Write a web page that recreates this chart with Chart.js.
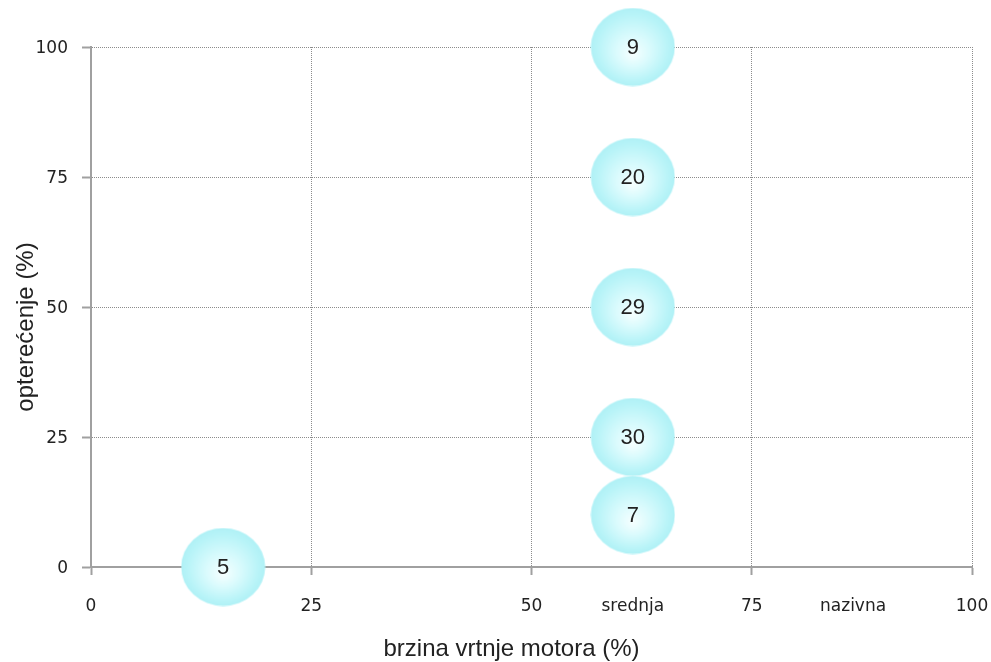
<!DOCTYPE html>
<html>
<head>
<meta charset="utf-8">
<script src="https://cdn.jsdelivr.net/npm/chart.js@4.4.1/dist/chart.umd.min.js"></script>
<style>
  html, body { margin: 0; padding: 0; background: #fff; }
  #wrap { width: 991px; height: 662px; }
</style>
</head>
<body>
<div id="wrap"><canvas id="chart1"></canvas></div>
<script>
// bubble positions (speed %, load %) and the number shown in each bubble
let speedX = [61.5, 61.5, 61.5, 61.5, 61.5, 15];
let loadY = [100, 75, 50, 25, 10, 0];
let bubbleLabels = ['9', '20', '29', '30', '7', '5'];

// x axis ticks: numbers plus two named speeds
let xTickValues = [0, 25, 50, 61.5, 75, 86.5, 100];
let xTickLabels = ['0', '25', '50', 'srednja', '75', 'nazivna', '100'];
let yTickValues = [0, 25, 50, 75, 100];

// soft cyan ellipse used as the point image
function makeBubble(w, h) {
    let c = document.createElement('canvas');
    c.width = w;
    c.height = h;
    let g = c.getContext('2d');
    g.save();
    g.translate(w / 2, h / 2);
    g.scale(1, h / w);
    let r = w / 2 - 0.5;
    let grad = g.createRadialGradient(0, 8, 0, 0, 0, r);
    grad.addColorStop(0, '#f6ffff');
    grad.addColorStop(0.4, '#dafbfd');
    grad.addColorStop(0.85, '#b8f4f8');
    grad.addColorStop(1, '#b0f1f6');
    g.fillStyle = grad;
    g.beginPath();
    g.arc(0, 0, r, 0, Math.PI * 2);
    g.fill();
    g.restore();
    return c;
}
let bubbleImg = makeBubble(85, 79);

let points = speedX.map(function (x, i) { return {x: x, y: loadY[i]}; });

function isNamedTick(v) {
    return v === 61.5 || v === 86.5;
}

const bubbleText = {
    id: 'bubbleText',
    afterDatasetsDraw(chart) {
        let ctx = chart.ctx;
        let meta = chart.getDatasetMeta(0);
        ctx.save();
        ctx.fillStyle = '#222';
        ctx.font = '22px "Liberation Sans", Arial, sans-serif';
        ctx.textAlign = 'center';
        ctx.textBaseline = 'middle';
        meta.data.forEach(function (pt, i) {
            ctx.fillText(bubbleLabels[i], pt.x, pt.y + 1);
        });
        ctx.restore();
    }
};

var ctx = document.getElementById('chart1').getContext('2d');
var chart = new Chart(ctx, {
    type: 'scatter',
    data: {
        datasets: [{
            data: points,
            pointStyle: bubbleImg,
            pointRadius: 40,
            pointHoverRadius: 40,
            clip: false
        }]
    },
    options: {
        responsive: true,
        maintainAspectRatio: false,
        animation: false,
        events: [],
        layout: {
            autoPadding: false,
            padding: {left: 0, right: 0, top: 47, bottom: 0}
        },
        plugins: {
            legend: {display: false},
            tooltip: {enabled: false}
        },
        scales: {
            x: {
                type: 'linear',
                min: 0,
                max: 100,
                afterBuildTicks: function (scale) {
                    scale.ticks = xTickValues.map(function (v) { return {value: v}; });
                },
                afterFit: function (scale) {
                    scale.height = 95;
                    scale.paddingLeft = 0;
                    scale.paddingRight = 19;
                },
                ticks: {
                    autoSkip: false,
                    maxRotation: 0,
                    padding: 21,
                    color: '#222',
                    font: {family: '"DejaVu Sans", Verdana, sans-serif', size: 17},
                    callback: function (value) {
                        return xTickLabels[xTickValues.indexOf(value)];
                    }
                },
                grid: {
                    color: function (c) {
                        return (c.tick && isNamedTick(c.tick.value)) ? 'rgba(0,0,0,0)' : '#8c8c8c';
                    },
                    tickColor: function (c) {
                        return (c.tick && isNamedTick(c.tick.value)) ? 'rgba(0,0,0,0)' : '#a0a0a0';
                    },
                    lineWidth: 1,
                    tickLength: 8,
                    tickWidth: 2
                },
                border: {color: '#a0a0a0', width: 2, dash: [1, 1]},
                title: {
                    display: true,
                    text: 'brzina vrtnje motora (%)' + '      ',
                    color: '#222',
                    font: {family: '"Liberation Sans", Arial, sans-serif', size: 24, lineHeight: 1.0},
                    padding: {top: 0, bottom: 1}
                }
            },
            y: {
                type: 'linear',
                min: 0,
                max: 100,
                afterBuildTicks: function (scale) {
                    scale.ticks = yTickValues.map(function (v) { return {value: v}; });
                },
                afterFit: function (scale) {
                    scale.width = 91;
                },
                ticks: {
                    padding: 14,
                    labelOffset: 2,
                    color: '#222',
                    font: {family: '"DejaVu Sans", Verdana, sans-serif', size: 17}
                },
                grid: {
                    color: '#8c8c8c',
                    tickColor: '#a0a0a0',
                    lineWidth: 1,
                    tickLength: 9,
                    tickWidth: 2
                },
                border: {color: '#a0a0a0', width: 2, dash: [1, 1]},
                title: {
                    display: true,
                    text: 'opterećenje (%)' + '      ',
                    color: '#222',
                    font: {family: '"Liberation Sans", Arial, sans-serif', size: 24, lineHeight: 1.2},
                    padding: {top: 12, bottom: 0}
                }
            }
        }
    },
    plugins: [bubbleText]
});
</script>
</body>
</html>
